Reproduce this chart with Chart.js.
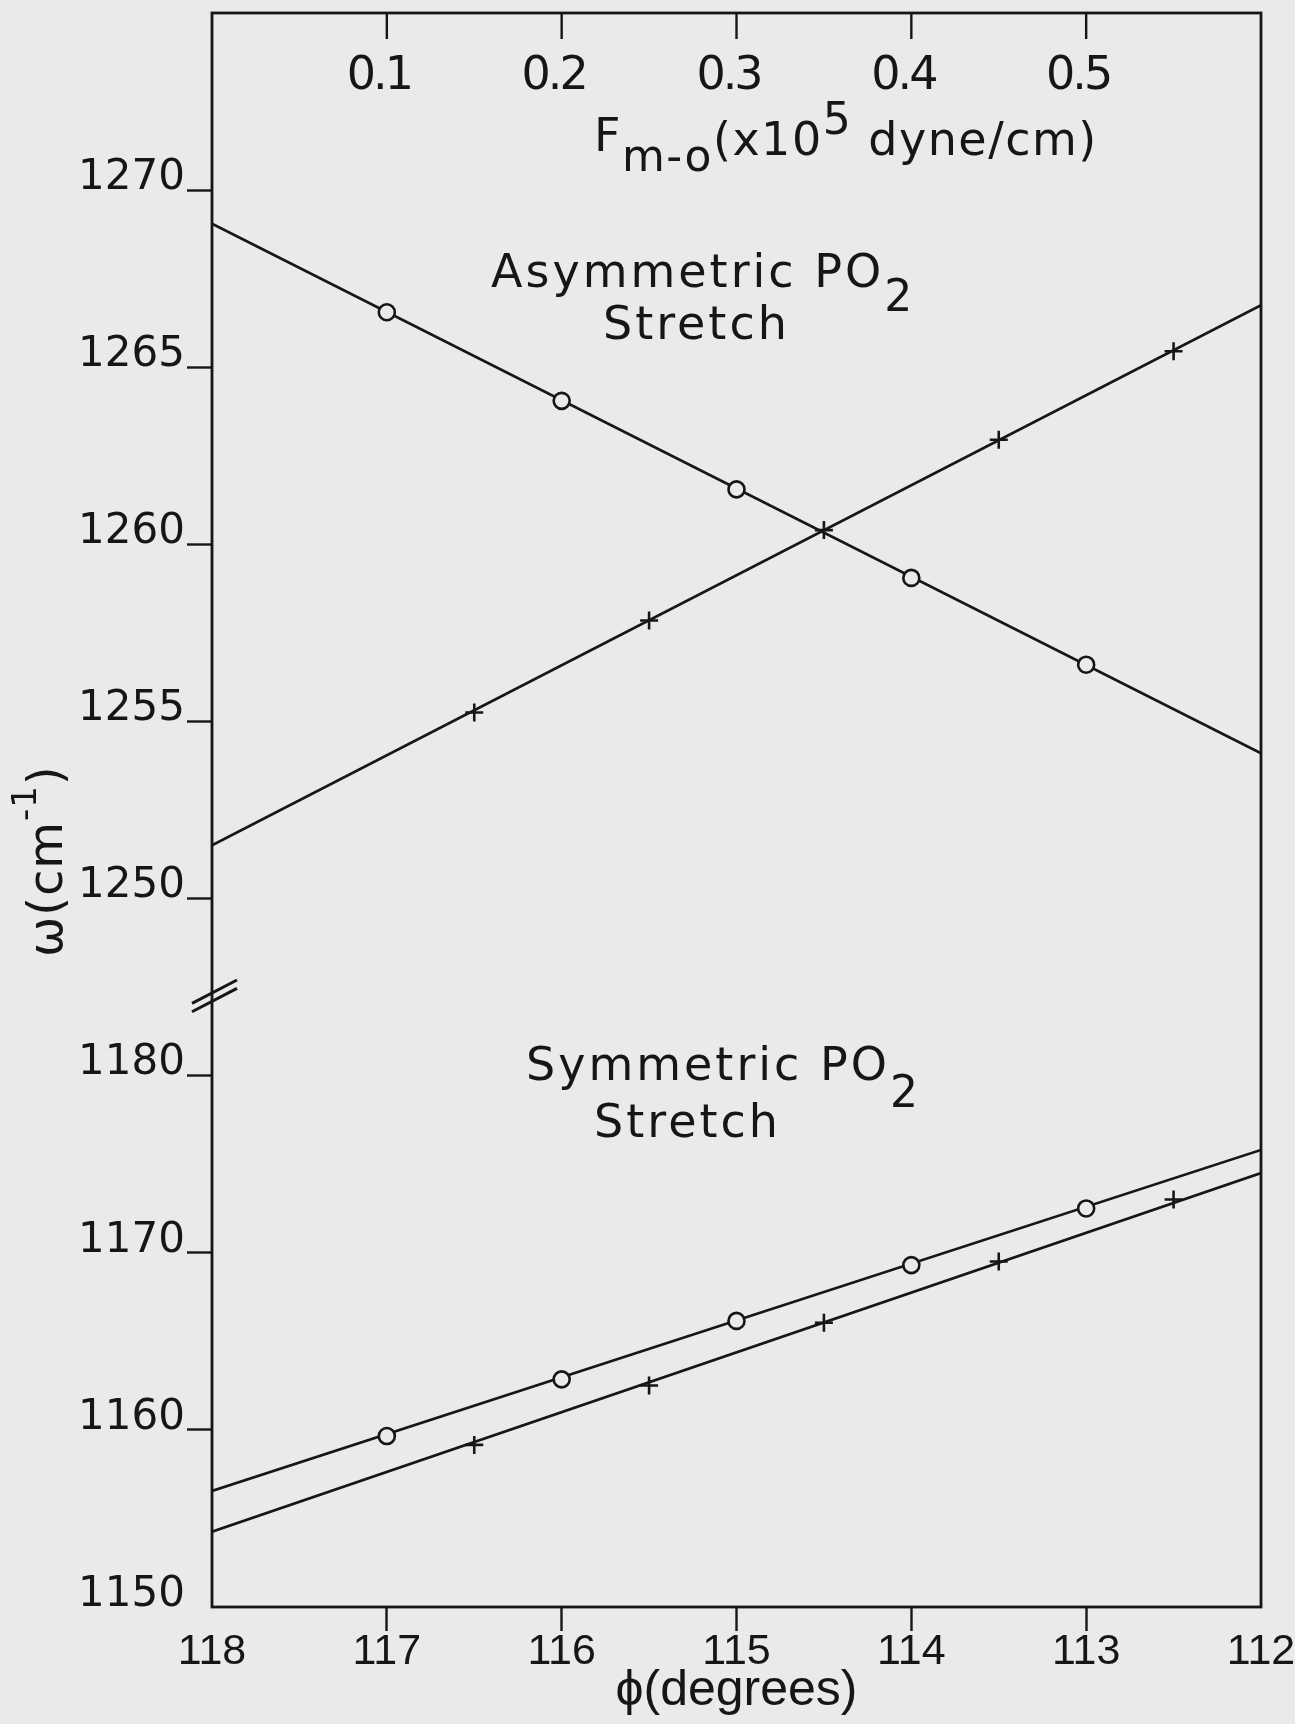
<!DOCTYPE html>
<html>
<head>
<meta charset="utf-8">
<script src="https://cdn.jsdelivr.net/npm/chart.js@4.4.1/dist/chart.umd.min.js"></script>
<style>
  html, body { margin: 0; padding: 0; background: #eaeae8; }
  #wrap { width: 1295px; height: 1724px; }
</style>
</head>
<body>
<div id="wrap"><canvas id="chart" width="1295" height="1724"></canvas></div>
<script>
// axis ticks
const phiTicks = [118, 117, 116, 115, 114, 113, 112];
const forceTicks = [0.1, 0.2, 0.3, 0.4, 0.5];
const upperTicks = [1250, 1255, 1260, 1265, 1270];
const lowerTicks = [1150, 1160, 1170, 1180];

// measured points (phi in degrees)
const circlePhi = [117, 116, 115, 114, 113];
const crossPhi = [116.5, 115.5, 114.5, 113.5, 112.5];
const asymCircle = [1266.55, 1264.05, 1261.55, 1259.05, 1256.6];
const asymCross = [1255.25, 1257.85, 1260.4, 1262.95, 1265.45];
const symCircle = [1159.65, 1162.85, 1166.15, 1169.3, 1172.5];
const symCross = [1159.15, 1162.5, 1166.05, 1169.5, 1173.0];

// fitted lines, read where they meet the frame (phi 118 and 112)
const lineEnds = [118, 112];
const asymCircleFit = [1269.05, 1254.1];
const asymCrossFit = [1251.5, 1266.75];
const symCircleFit = [1156.55, 1175.8];
const symCrossFit = [1154.25, 1174.5];

const ink = '#161616';
const paper = '#eaeae8';
const geo = '"DejaVu Sans", sans-serif';
const grot = '"Liberation Sans", sans-serif';

const pts = (xs, ys) => xs.map((x, i) => ({ x, y: ys[i] }));

function markers(xs, ys, axis, style) {
    return {
        data: pts(xs, ys),
        yAxisID: axis,
        showLine: false,
        pointStyle: style,
        pointRadius: style === 'circle' ? 8 : 9,
        pointBorderWidth: 2.6,
        pointBorderColor: ink,
        pointBackgroundColor: paper,
        order: 0,
    };
}

function fit(ys, axis) {
    return {
        data: pts(lineEnds, ys),
        yAxisID: axis,
        showLine: true,
        borderColor: ink,
        borderWidth: 2.6,
        pointRadius: 0,
        order: 1,
    };
}

const hideAt = (vals) => (c) => (c.tick && vals.includes(c.tick.value)) ? 'rgba(0,0,0,0)' : ink;
const noPad = (s) => { s.paddingTop = 0; s.paddingBottom = 0; s.paddingLeft = 0; s.paddingRight = 0; };

// draws a run of text pieces: [text, size, baselineShift]
function runs(ctx, x, y, pieces, family, spacing) {
    ctx.letterSpacing = (spacing || 0) + 'px';
    for (const [txt, size, dy] of pieces) {
        ctx.font = `${size}px ${family}`;
        ctx.fillText(txt, x, y + dy);
        x += ctx.measureText(txt).width;
    }
    ctx.letterSpacing = '0px';
}

const decor = {
    id: 'decor',
    afterDraw(chart) {
        const { ctx, chartArea: a, scales } = chart;
        const { x, x2, yTop, yBot } = scales;
        ctx.save();
        ctx.strokeStyle = ink;
        ctx.fillStyle = ink;

        // frame
        ctx.lineWidth = 2.8;
        ctx.strokeRect(a.left, a.top, a.right - a.left, a.bottom - a.top);

        // top force-constant axis, ticks pointing into the plot
        ctx.lineWidth = 2.4;
        ctx.textAlign = 'center';
        ctx.textBaseline = 'alphabetic';
        ctx.font = `46px ${geo}`;
        ctx.letterSpacing = '-3px';
        for (const v of forceTicks) {
            const px = x2.getPixelForValue(v);
            ctx.beginPath();
            ctx.moveTo(px, a.top);
            ctx.lineTo(px, a.top + 26);
            ctx.stroke();
            ctx.fillText(v.toFixed(1), px - 8, a.top + 76);
        }
        ctx.letterSpacing = '0px';

        ctx.textAlign = 'left';
        const tx = x.getPixelForValue(115.815);
        runs(ctx, tx, a.top + 138, [
            ['F', 46, 0], ['m-o', 44, 20], ['(x10', 46, 4], ['5', 44, -17], [' dyne/cm)', 46, 4],
        ], geo, 1.5);

        // y title, rotated
        ctx.save();
        ctx.translate(62, 957);
        ctx.rotate(-Math.PI / 2);
        runs(ctx, 0, 0, [['\u03c9(cm', 48, 0], ['-1', 34, -26], [')', 48, 0]], geo, 1);
        ctx.restore();

        // axis break
        const j = yTop.bottom;
        ctx.lineWidth = 3;
        for (const off of [-1.4, 7]) {
            ctx.beginPath();
            ctx.moveTo(a.left - 20, j + off);
            ctx.lineTo(a.left + 25, j + off - 23.3);
            ctx.stroke();
        }

        // annotations
        runs(ctx, x.getPixelForValue(116.404), yTop.getPixelForValue(1267.26),
            [['Asymmetric PO', 46, 0], ['2', 44, 24]], geo, 3);
        runs(ctx, x.getPixelForValue(115.764), yTop.getPixelForValue(1265.8),
            [['Stretch', 46, 0]], geo, 3);
        runs(ctx, x.getPixelForValue(116.204), yBot.getPixelForValue(1179.75),
            [['Symmetric PO', 46, 0], ['2', 44, 27]], geo, 3);
        runs(ctx, x.getPixelForValue(115.815), yBot.getPixelForValue(1176.53),
            [['Stretch', 46, 0]], geo, 3);

        ctx.restore();
    },
};

const yCommon = {
    type: 'linear',
    position: 'left',
    stack: 'omega',
    afterFit: (s) => { s.width = 212; noPad(s); },
    border: { display: false },
};

new Chart(document.getElementById('chart'), {
    type: 'scatter',
    data: {
        datasets: [
            markers(circlePhi, asymCircle, 'yTop', 'circle'),
            markers(crossPhi, asymCross, 'yTop', 'cross'),
            markers(circlePhi, symCircle, 'yBot', 'circle'),
            markers(crossPhi, symCross, 'yBot', 'cross'),
            fit(asymCircleFit, 'yTop'),
            fit(asymCrossFit, 'yTop'),
            fit(symCircleFit, 'yBot'),
            fit(symCrossFit, 'yBot'),
        ],
    },
    options: {
        responsive: false,
        animation: false,
        layout: { padding: { top: 13, right: 34, left: 0, bottom: 0 } },
        plugins: { legend: { display: false }, tooltip: { enabled: false } },
        scales: {
            x: {
                type: 'linear',
                position: 'bottom',
                min: 112,
                max: 118,
                reverse: true,
                afterBuildTicks: (s) => { s.ticks = phiTicks.map((v) => ({ value: v })); },
                afterFit: (s) => { s.height = 117; noPad(s); },
                grid: { drawOnChartArea: false, tickLength: 24, tickWidth: 2.4, tickColor: hideAt([118, 112]) },
                border: { display: false },
                ticks: {
                    color: ink, padding: -5, autoSkip: false, maxRotation: 0,
                    font: { family: grot, size: 43 },
                    callback: (v) => String(v),
                },
                title: {
                    display: true, text: '\u03d5(degrees)', color: ink,
                    font: { family: grot, size: 50 },
                    padding: { top: 0, bottom: 3 },
                },
            },
            x2: { type: 'linear', position: 'top', min: 0, max: 0.6, display: false },
            yTop: {
                ...yCommon,
                weight: 1,
                stackWeight: 28 * 35.45,
                min: 1247,
                max: 1275,
                afterBuildTicks: (s) => { s.ticks = upperTicks.map((v) => ({ value: v })); },
                grid: { drawOnChartArea: false, tickLength: 25, tickWidth: 2.4, tickColor: ink },
                ticks: { color: ink, padding: 2, labelOffset: -12, font: { family: geo, size: 42 }, callback: (v) => String(v) },
            },
            yBot: {
                ...yCommon,
                weight: 0,
                stackWeight: 34 * 17.73,
                min: 1150,
                max: 1184,
                afterBuildTicks: (s) => { s.ticks = lowerTicks.map((v) => ({ value: v })); },
                grid: { drawOnChartArea: false, tickLength: 25, tickWidth: 2.4, tickColor: hideAt([1150]) },
                ticks: { color: ink, padding: 2, labelOffset: -12, font: { family: geo, size: 42 }, callback: (v) => String(v) },
            },
        },
    },
    plugins: [decor],
});
</script>
</body>
</html>
